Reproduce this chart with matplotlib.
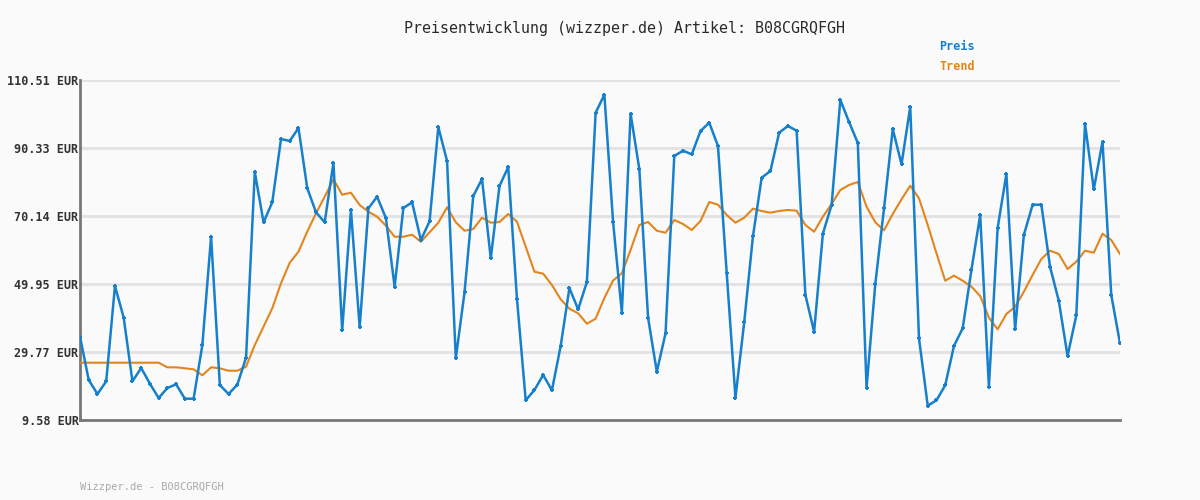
import matplotlib
matplotlib.use("Agg")
import matplotlib.pyplot as plt
import numpy as np

# Werte (EUR)
preis = [34.31, 21.45, 17.30, 21.07, 49.36, 39.95, 21.07, 25.02, 20.36, 16.11,
         19.08, 20.18, 15.90, 15.90, 31.84, 63.99, 19.97, 17.30, 20.06, 28.07,
         83.20, 68.27, 74.20, 93.00, 92.40, 96.26, 78.45, 71.24, 68.27, 85.96,
         36.21, 71.92, 37.10, 72.42, 75.87, 69.54, 49.15, 72.51, 74.20, 63.01,
         68.56, 96.56, 86.46, 27.90, 47.49, 76.08, 81.12, 57.58, 79.04, 84.68,
         45.50, 15.43, 18.49, 22.94, 18.40, 31.55, 48.76, 42.44, 50.55, 100.80,
         106.15, 68.27, 41.43, 100.51, 84.09, 39.95, 23.92, 35.32, 87.95, 89.52,
         88.45, 95.37, 97.83, 90.92, 53.13, 16.20, 38.58, 64.11, 81.51, 83.50,
         94.87, 96.85, 95.46, 46.69, 35.79, 64.88, 73.40, 104.57, 98.04, 91.81,
         19.17, 49.95, 72.42, 95.96, 85.49, 102.58, 33.83, 13.82, 15.43, 19.88,
         31.55, 36.80, 54.11, 70.43, 19.47, 66.58, 82.61, 36.50, 64.50, 73.49,
         73.49, 55.00, 44.91, 28.58, 40.66, 97.45, 78.06, 92.19, 46.69, 32.35]

trend = [26.59, 26.59, 26.59, 26.59, 26.59, 26.59, 26.59, 26.59, 26.59, 26.59,
         25.22, 25.22, 24.93, 24.63, 22.85, 25.22, 24.93, 24.21, 24.21, 25.40,
         31.84, 37.28, 42.74, 50.16, 56.27, 59.54, 65.48, 70.94, 75.87, 81.03,
         76.46, 77.05, 73.40, 71.41, 69.93, 67.26, 63.99, 63.99, 64.59, 62.51,
         65.30, 68.15, 72.72, 68.27, 65.77, 66.28, 69.63, 68.15, 68.36, 70.73,
         68.45, 61.02, 53.60, 53.01, 49.66, 45.41, 42.62, 41.25, 38.17, 39.65,
         45.80, 50.99, 53.13, 60.04, 67.47, 68.36, 65.77, 65.18, 68.95, 67.76,
         65.98, 68.65, 74.29, 73.49, 70.43, 68.15, 69.63, 72.31, 71.62, 71.12,
         71.62, 71.92, 71.71, 67.47, 65.48, 69.93, 73.70, 77.86, 79.34, 80.23,
         72.90, 68.27, 65.89, 70.73, 75.10, 79.13, 75.39, 67.47, 59.07, 50.93,
         52.42, 50.93, 49.15, 46.39, 39.95, 36.50, 41.05, 43.21, 47.67, 52.62,
         57.37, 59.84, 58.86, 54.40, 56.57, 59.84, 59.24, 64.88, 63.01, 58.86]

y_ticks = [9.58, 29.77, 49.95, 70.14, 90.33, 110.51]
y_labels = ["9.58 EUR", "29.77 EUR", "49.95 EUR", "70.14 EUR", "90.33 EUR", "110.51 EUR"]

bg = "#fafafa"
blau = "#1680cc"
orange = "#e4841c"

fig = plt.figure(figsize=(12, 5), dpi=100, facecolor=bg)
ax = fig.add_axes([80 / 1200, 80 / 500, 1040 / 1200, 340 / 500], facecolor=bg)

x = np.arange(len(preis))
ax.plot(x, trend, color=orange, lw=1.5, zorder=3)
ax.plot(x, preis, color=blau, lw=1.8, marker="+", ms=3.5, mew=1.5, zorder=4)

ax.set_xlim(0, len(preis) - 1)
ax.set_ylim(y_ticks[0], y_ticks[-1])
ax.set_xticks([])
ax.set_yticks(y_ticks)
ax.set_yticklabels(y_labels, fontfamily="DejaVu Sans Mono", fontweight="bold",
                   fontsize=8.5, color="#333333")
ax.tick_params(axis="y", length=0, pad=1)
ax.grid(axis="y", color="#e2e2e2", lw=2, zorder=0)

for s in ["top", "right"]:
    ax.spines[s].set_visible(False)
for s in ["left", "bottom"]:
    ax.spines[s].set_color("#777777")
    ax.spines[s].set_linewidth(2)

fig.text(624 / 1200, 1 - 28 / 500, "Preisentwicklung (wizzper.de) Artikel: B08CGRQFGH",
         ha="center", va="center", fontfamily="DejaVu Sans Mono", fontsize=10.8,
         color="#2a2a2a")
fig.text(939 / 1200, 1 - 47 / 500, "Preis", ha="left", va="center",
         fontfamily="DejaVu Sans Mono", fontweight="bold", fontsize=8.5, color=blau)
fig.text(939 / 1200, 1 - 67 / 500, "Trend", ha="left", va="center",
         fontfamily="DejaVu Sans Mono", fontweight="bold", fontsize=8.5, color=orange)
fig.text(80 / 1200, 1 - 487 / 500, "Wizzper.de - B08CGRQFGH", ha="left", va="center",
         fontfamily="DejaVu Sans Mono", fontsize=7.5, color="#aaaaaa")

fig.savefig("out.png", dpi=100, facecolor=bg)
